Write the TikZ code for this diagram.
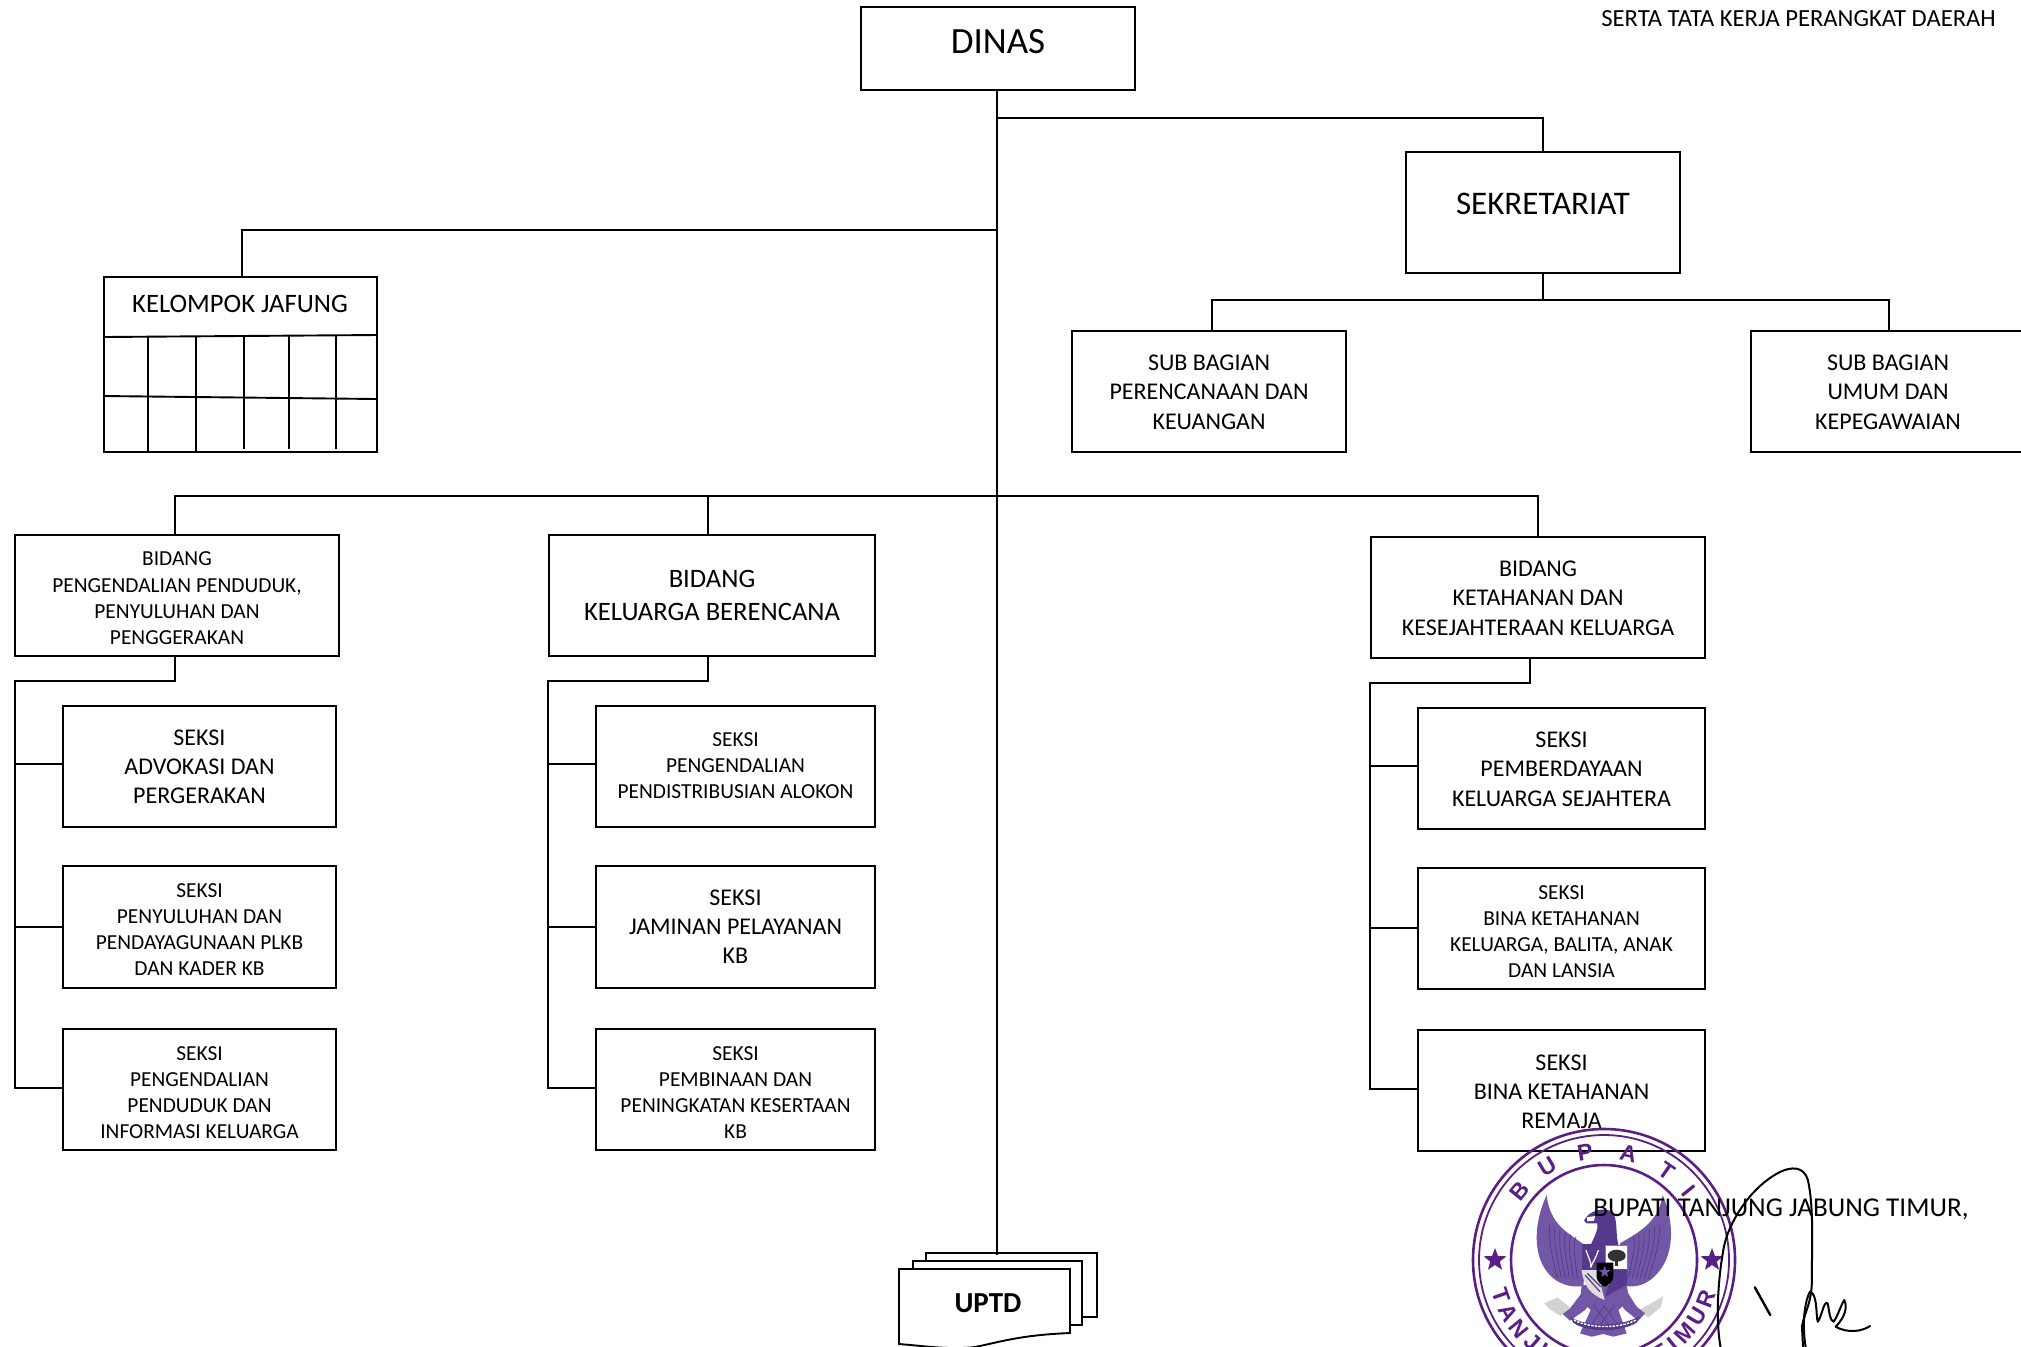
\documentclass[tikz,border=0pt]{standalone}
\usepackage{fontspec}
\setmainfont{Carlito}
\newfontfamily\stampfont{Liberation Sans}
\usetikzlibrary{shapes.geometric}
\definecolor{stamp}{HTML}{5A1F86}
\definecolor{garuda}{HTML}{7257A6}
\definecolor{garudad}{HTML}{54398C}
\newcommand{\fs}[2]{\fontsize{#1}{#2}\selectfont}
\tikzset{
 box/.style={draw=black,line width=1pt,fill=white,inner sep=0pt,anchor=north west},
 txt/.style={align=center,inner sep=0pt,text depth=0pt},
 conn/.style={draw=black,line width=0.95pt},
 big/.style={font=\fs{13.3}{16.2}},
 mid/.style={font=\fs{12}{14.6}},
 small/.style={font=\fs{10.7}{13.1}},
 stamptxt/.style={text=stamp,font=\fs{11.5}{12}\stampfont\bfseries,inner sep=0pt},
 stampstar/.style={star,star points=5,star point ratio=2.4,fill=stamp,inner sep=0pt,minimum size=12pt},
}
\newcommand{\bx}[8]{\node[box,minimum width=#4*0.5pt-#2*0.5pt,minimum height=#5*0.5pt-#3*0.5pt] (#1) at (#2-1,#3-1) {};
\node[txt,#7] (#1t) at ([yshift=-#8*0.5pt]#1.center) {#6};}
\newcommand{\toplet}[3]{\node[stamptxt,rotate=-#2] (#1) at ({1604+109*sin(#2)},{1260-109*cos(#2)}) {#3};}
\newcommand{\botlet}[3]{\node[stamptxt,rotate=#2] (#1) at ({1604+109*sin(#2)},{1260+109*cos(#2)}) {#3};}
\begin{document}
\begin{tikzpicture}[x=0.5pt,y=-0.5pt]
\useasboundingbox (0,0) rectangle (2021,1346);
\clip (0,0) rectangle (2021,1346);
\fill[white] (0,0) rectangle (2021,1346);
% ---- boxes
\bx{dinas}{861}{7}{1135}{90}{DINAS}{font=\fs{18.5}{22}}{-6.7}
\bx{sek}{1406}{152}{1680}{273}{SEKRETARIAT}{font=\fs{16.5}{20}}{-9}
\node[box,minimum width=136.5pt,minimum height=87.5pt] (jaf) at (103,275.5) {};
\node[txt,big] (jaft) at (240,304) {KELOMPOK JAFUNG};
\coordinate (jl1) at (103,337); \coordinate (jr1) at (377,335);
\coordinate (jl2) at (103,396); \coordinate (jr2) at (377,399);
\draw[conn] (jl1) -- (jr1);
\draw[conn] (jl2) -- (jr2);
\foreach \n/\px/\pa/\pb in {v1/148/337/451,v2/196/337/451,v3/244/335/449,v4/289/335/449,v5/336/335/449}{
  \coordinate (\n a) at (\px,\pa); \coordinate (\n b) at (\px,\pb);
  \draw[conn] (\n a) -- (\n b);
}
\bx{sub1}{1072}{331}{1346}{452}{SUB BAGIAN\\PERENCANAAN DAN\\KEUANGAN}{mid}{0.5}
\bx{sub2}{1751}{331}{2025}{452}{SUB BAGIAN\\UMUM DAN\\KEPEGAWAIAN}{mid}{0.5}
\bx{b1}{15}{535}{339}{656}{BIDANG\\PENGENDALIAN PENDUDUK,\\PENYULUHAN DAN\\PENGGERAKAN}{small}{2.8}
\bx{b2}{549}{535}{875}{656}{BIDANG\\KELUARGA BERENCANA}{big}{0}
\bx{b3}{1371}{537}{1705}{658}{BIDANG\\KETAHANAN DAN\\KESEJAHTERAAN KELUARGA}{mid}{0.5}
\bx{a1}{63}{706}{336}{827}{SEKSI\\ADVOKASI DAN\\PERGERAKAN}{mid}{0}
\bx{a2}{63}{866}{336}{988}{SEKSI\\PENYULUHAN DAN\\PENDAYAGUNAAN PLKB\\DAN KADER KB}{small}{2.7}
\bx{a3}{63}{1029}{336}{1150}{SEKSI\\PENGENDALIAN\\PENDUDUK DAN\\INFORMASI KELUARGA}{small}{3}
\bx{c1}{596}{706}{875}{827}{SEKSI\\PENGENDALIAN\\PENDISTRIBUSIAN ALOKON}{small}{-0.8}
\bx{c2}{596}{866}{875}{988}{SEKSI\\JAMINAN PELAYANAN\\KB}{mid}{-0.6}
\bx{c3}{596}{1029}{875}{1150}{SEKSI\\PEMBINAAN DAN\\PENINGKATAN KESERTAAN\\KB}{small}{3}
\bx{d1}{1418}{708}{1705}{829}{SEKSI\\PEMBERDAYAAN\\KELUARGA SEJAHTERA}{mid}{0.5}
\bx{d2}{1418}{868}{1705}{989}{SEKSI\\BINA KETAHANAN\\KELUARGA, BALITA, ANAK\\DAN LANSIA}{small}{3.2}
\bx{d3}{1418}{1030}{1705}{1151}{SEKSI\\BINA KETAHANAN\\REMAJA}{mid}{1}
% ---- ports and junctions
\coordinate (jsek) at (997,118);
\coordinate (jjaf) at (997,230);
\coordinate (jbid) at (997,496);
\coordinate (mainend) at (997,1255);
\coordinate (jaftop) at (242,276);
\coordinate (sekbot) at (1543,272);
\coordinate (sekj) at (1543,300);
\coordinate (s1top) at (1212,330);
\coordinate (s2top) at (1889,330);
\coordinate (b1top) at (175,534);
\coordinate (b2top) at (708,534);
\coordinate (b3top) at (1538,536);
\coordinate (b1bot) at (175,655);
\coordinate (b2bot) at (708,655);
\coordinate (b3bot) at (1530,657);
\coordinate (b1bus) at (15,681);
\coordinate (b2bus) at (548,681);
\coordinate (b3bus) at (1370,683);
\coordinate (a1j) at (63,764); \coordinate (a2j) at (63,927); \coordinate (a3j) at (63,1088);
\coordinate (c1j) at (596,764); \coordinate (c2j) at (596,927); \coordinate (c3j) at (596,1088);
\coordinate (d1j) at (1418,766); \coordinate (d2j) at (1418,928); \coordinate (d3j) at (1418,1089);
% ---- UPTD stack
\draw[conn,fill=white] (926,1253) -- (1097,1253) -- (1097,1317) -- (926,1317) -- cycle;
\draw[conn,fill=white] (913,1261) -- (1082,1261) -- (1082,1325) -- (913,1325) -- cycle;
\draw[conn,fill=white] (899,1269) -- (1070,1269) -- (1070,1333) .. controls (1020,1335) and (1000,1342) .. (975,1347) .. controls (950,1350) and (925,1346) .. (899,1344) -- cycle;
\node[txt,font=\fs{14.5}{16}\bfseries] (uptd) at (988,1303) {UPTD};
% ---- connectors
\draw[conn] (dinas.south -| mainend) -- (mainend);
\draw[conn] (jsek) -| (sek.north -| sekbot);
\draw[conn] (jjaf) -| (jaftop);
\draw[conn] (sekbot) -- (sekj);
\draw[conn] (s1top) |- (sekj) -| (s2top);
\draw[conn] (b1top) |- (jbid) -| (b3top);
\draw[conn] (b2top) -- (b2top |- jbid);
\foreach \b/\x/\pa/\pb/\pc in {b1bus/b1bot/a1j/a2j/a3j,b2bus/b2bot/c1j/c2j/c3j,b3bus/b3bot/d1j/d2j/d3j}{
  \draw[conn] (\x) |- (\b) -- (\b |- \pc) -- (\pc);
  \draw[conn] (\b |- \pa) -- (\pa);
  \draw[conn] (\b |- \pb) -- (\pb);
}
% ---- top text
\node[txt,font=\fs{12.3}{14},anchor=east] (serta) at (1996,19) {SERTA TATA KERJA PERANGKAT DAERAH};
% ---- stamp
\draw[stamp,line width=1.3pt] (1604,1260) circle [radius=131];
\draw[stamp,line width=0.9pt] (1604,1260) circle [radius=125];
\draw[stamp,line width=1.3pt] (1604,1260) ellipse [x radius=93,y radius=95];
\toplet{s1}{-51}{B}\toplet{s2}{-31}{U}\toplet{s3}{-10}{P}\toplet{s4}{13}{A}\toplet{s5}{35}{T}\toplet{s6}{51}{I}
\botlet{s7}{-71}{T}\botlet{s8}{-61}{A}\botlet{s9}{-51}{N}\botlet{s10}{-41}{J}\botlet{s11}{-31}{U}\botlet{s12}{-21}{N}
\botlet{s13}{31}{T}\botlet{s14}{39}{I}\botlet{s15}{48}{M}\botlet{s16}{59}{U}\botlet{s17}{69}{R}
\node[stampstar] (st1) at (1495,1260) {};
\node[stampstar] (st2) at (1712,1260) {};
% garuda, in coordinates of a 3x crop with origin (1470,1190)
\begin{scope}[shift={(1470,1190)},x=0.16667pt,y=-0.16667pt]
% ribbon ends
\fill[gray!35] (222,340) -- (262,322) -- (300,352) -- (272,378) -- (240,358) -- cycle;
\fill[gray!35] (580,318) -- (540,342) -- (505,362) -- (535,382) -- (572,352) -- cycle;
% wings
\fill[garuda] (230,15) .. controls (195,90) and (190,170) .. (218,225) .. controls (245,275) and (290,295) .. (340,288) -- (350,170) .. controls (300,130) and (240,110) .. (230,15) -- cycle;
\fill[garuda] (578,15) .. controls (610,90) and (612,170) .. (580,225) .. controls (550,275) and (510,295) .. (465,288) -- (450,160) .. controls (500,130) and (565,100) .. (578,15) -- cycle;
\foreach \i in {0,...,5}{
 \draw[garudad,line width=.35pt] (238+\i*16,105+\i*7) .. controls (240+\i*14,170) .. (262+\i*12,265);
 \draw[garudad,line width=.35pt] (570-\i*16,105+\i*7) .. controls (565-\i*14,170) .. (535-\i*12,265);
}
% head and neck
\fill[garudad] (342,92) .. controls (355,62) and (400,50) .. (425,65) .. controls (445,85) and (435,125) .. (445,165) -- (362,165) .. controls (375,135) and (385,120) .. (382,100) -- (350,100) -- cycle;
\fill[white] (350,82) -- (375,78) -- (372,92) -- (352,94) -- cycle;
% body, legs and tail
\fill[garuda] (335,285) -- (470,285) -- (478,330) -- (445,360) -- (470,430) -- (430,440) -- (400,432) -- (365,440) -- (330,430) -- (362,360) -- (330,330) -- cycle;
\draw[garudad,line width=.3pt] (370,345) -- (420,410) (400,345) -- (445,405) (435,345) -- (385,410) (405,345) -- (360,410);
\fill[garuda] (342,300) -- (300,355) -- (278,372) -- (300,392) -- (345,360) -- (372,325) -- cycle;
\fill[garuda] (468,300) -- (500,350) -- (525,370) -- (505,392) -- (465,360) -- (440,325) -- cycle;
% motto ribbon
\fill[garudad] (300,380) .. controls (350,412) and (450,412) .. (510,378) -- (500,398) .. controls (450,428) and (350,428) .. (310,398) -- cycle;
\draw[white,line width=.7pt,dash pattern=on 1.2pt off .6pt] (312,390) .. controls (360,416) and (450,416) .. (498,390);
% shield
\fill[garudad] (335,162) rectangle (405,240);
\fill[white] (405,165) rectangle (472,238);
\draw[gray,line width=.4pt] (405,165) rectangle (472,238);
\fill[black!80] (440,197) ellipse [x radius=27,y radius=18];
\fill[black!80] (436,205) rectangle (444,228);
\draw[white,line width=.6pt] (348,180) .. controls (355,205) and (365,215) .. (362,232);
\draw[white,line width=.6pt] (385,180) .. controls (378,205) and (368,215) .. (362,232);
\fill[garudad] (430,238) -- (472,238) -- (470,285) -- (405,320) -- cycle;
\fill[gray!25] (335,240) -- (380,240) -- (404,330) .. controls (365,315) and (340,290) .. (335,240) -- cycle;
\draw[garudad,line width=.6pt] (345,255) -- (390,305) (352,250) -- (392,290);
\fill[black] (380,218) -- (430,218) -- (430,262) .. controls (428,275) and (415,285) .. (405,290) .. controls (392,285) and (382,275) .. (380,262) -- cycle;
\node[star,star points=5,star point ratio=2.4,fill=garuda,inner sep=0pt,minimum size=6pt] (st3) at (404,246) {};
\end{scope}
% text over stamp
\node[txt,font=\fs{13.6}{15},anchor=west] (bup) at (1593,1207.5) {BUPATI TANJUNG JABUNG TIMUR,};
% signature: crop coordinates, x scale 2.525 and y scale 3, origin (1400,1100)
\begin{scope}[shift={(1400,1100)},x=0.198pt,y=-0.16667pt]
\draw[black,line width=1pt,line cap=round,line join=round] (810,745) .. controls (795,650) and (805,520) .. (818,440) .. controls (830,370) and (880,270) .. (950,222) .. controls (990,195) and (1020,200) .. (1030,240) .. controls (1045,320) and (1040,430) .. (1040,540) .. controls (1040,610) and (1020,640) .. (1015,680) -- (1018,745);
\draw[black,line width=1pt,line cap=round,line join=round] (1025,745) .. controls (1015,680) and (1020,610) .. (1035,575) .. controls (1055,580) and (1050,650) .. (1055,665) .. controls (1065,650) and (1070,600) .. (1080,610) .. controls (1085,640) and (1085,660) .. (1095,665) .. controls (1105,650) and (1115,610) .. (1122,600) .. controls (1130,620) and (1125,650) .. (1100,680) .. controls (1130,700) and (1165,695) .. (1187,678);
\draw[black,line width=1.2pt,line cap=round] (896,562) -- (935,645);
\end{scope}
\end{tikzpicture}
\end{document}
